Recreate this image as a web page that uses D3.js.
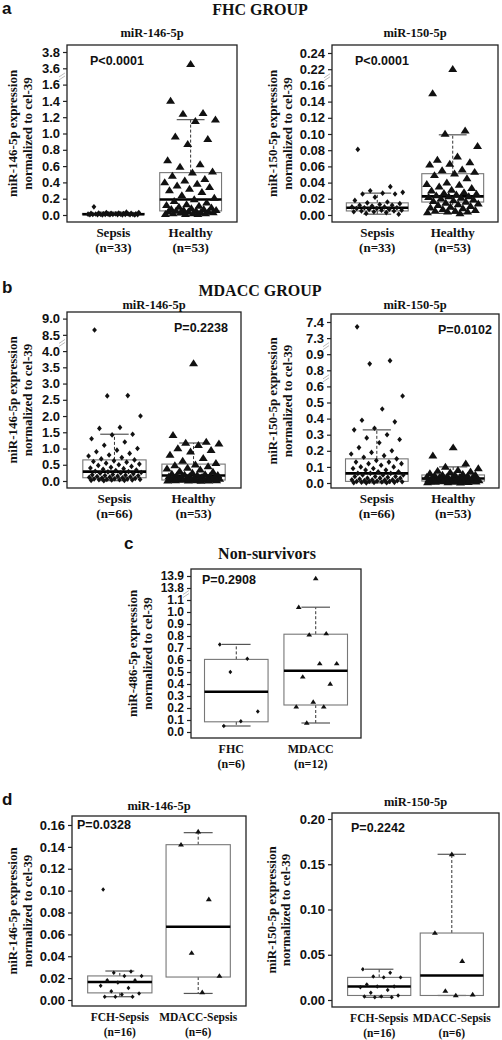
<!DOCTYPE html>
<html><head><meta charset="utf-8">
<script src="https://cdn.jsdelivr.net/npm/d3@7"></script>
<style>body{margin:0;background:#fff}svg{display:block}</style>
</head><body>
<script>
// ---------------- DATA ----------------
const catsAB = ["Sepsis", "Healthy"];
const nA = ["(n=33)", "(n=53)"];
const nB = ["(n=66)", "(n=53)"];
const catsC = ["FHC", "MDACC"];
const nC = ["(n=6)", "(n=12)"];
const catsD = ["FCH-Sepsis", "MDACC-Sepsis"];
const nD = ["(n=16)", "(n=6)"];

// panel a, miR-146-5p
const ticksA146 = [0, 0.2, 0.4, 0.6, 0.8, 1.0, 1.2, 1.4, 1.6, 3.6, 3.8];
const anchorsA146 = [0, 1.6, 3.6, 3.8];
const a146Sepsis = [0.10, 0.035, 0.03, 0.03, 0.025, 0.025, 0.022, 0.02, 0.02, 0.018, 0.016, 0.015, 0.014, 0.013, 0.012, 0.011, 0.01, 0.01, 0.009, 0.008, 0.008, 0.007, 0.006, 0.006, 0.005, 0.005, 0.004, 0.004, 0.003, 0.003, 0.002, 0.002, 0.001];
const a146Healthy = [3.65, 1.40, 1.25, 1.24, 1.17, 1.15, 0.96, 0.93, 0.87, 0.67, 0.62, 0.59, 0.53, 0.52, 0.48, 0.44, 0.42, 0.40, 0.38, 0.36, 0.34, 0.32, 0.30, 0.28, 0.24, 0.21, 0.19, 0.17, 0.15, 0.13, 0.12, 0.11, 0.10, 0.09, 0.08, 0.07, 0.07, 0.06, 0.06, 0.05, 0.05, 0.04, 0.04, 0.04, 0.03, 0.03, 0.03, 0.02, 0.02, 0.02, 0.01, 0.01, 0.01];
const a146Box = [[0.001, 0.004, 0.01, 0.02, 0.035], [0.0, 0.05, 0.19, 0.52, 1.17]];

// panel a, miR-150-5p
const ticksA150 = [0, 0.02, 0.04, 0.06, 0.08, 0.10, 0.12, 0.14, 0.16, 0.22, 0.24];
const anchorsA150 = [0, 0.16, 0.22, 0.24];
const a150Sepsis = [0.081, 0.035, 0.030, 0.028, 0.027, 0.026, 0.026, 0.022, 0.018, 0.016, 0.015, 0.014, 0.013, 0.012, 0.012, 0.011, 0.010, 0.010, 0.009, 0.009, 0.008, 0.008, 0.007, 0.007, 0.006, 0.006, 0.005, 0.005, 0.004, 0.004, 0.003, 0.002, 0.001];
const a150Healthy = [0.22, 0.15, 0.104, 0.100, 0.085, 0.072, 0.068, 0.065, 0.063, 0.062, 0.056, 0.055, 0.053, 0.051, 0.049, 0.045, 0.040, 0.038, 0.037, 0.035, 0.033, 0.031, 0.030, 0.028, 0.027, 0.026, 0.025, 0.024, 0.023, 0.023, 0.022, 0.021, 0.020, 0.019, 0.018, 0.017, 0.016, 0.015, 0.014, 0.013, 0.012, 0.011, 0.010, 0.009, 0.008, 0.007, 0.006, 0.005, 0.005, 0.004, 0.004, 0.003, 0.002];
const a150Box = [[0.001, 0.005, 0.009, 0.015, 0.027], [0.002, 0.016, 0.023, 0.051, 0.099]];

// panel b, miR-146-5p
const ticksB146 = [0, 0.5, 1.0, 1.5, 2.0, 2.5, 3.0, 3.5, 4.0, 8.5, 9.0];
const anchorsB146 = [0, 4.0, 8.5, 9.0];
const b146Sepsis = [8.65, 2.63, 2.62, 2.0, 1.65, 1.62, 1.44, 1.42, 1.3, 1.2, 1.1, 1.0, 0.95, 0.9, 0.85, 0.8, 0.77, 0.72, 0.68, 0.65, 0.62, 0.6, 0.58, 0.55, 0.52, 0.5, 0.48, 0.45, 0.42, 0.4, 0.38, 0.36, 0.34, 0.32, 0.3, 0.29, 0.28, 0.26, 0.25, 0.24, 0.22, 0.2, 0.19, 0.18, 0.17, 0.16, 0.15, 0.14, 0.13, 0.12, 0.11, 0.1, 0.09, 0.08, 0.07, 0.06, 0.06, 0.05, 0.05, 0.04, 0.04, 0.03, 0.03, 0.02, 0.02, 0.01];
const b146Healthy = [3.62, 1.41, 1.2, 1.17, 1.15, 1.1, 1.0, 0.95, 0.9, 0.8, 0.7, 0.62, 0.55, 0.5, 0.48, 0.45, 0.4, 0.38, 0.35, 0.3, 0.28, 0.25, 0.22, 0.2, 0.19, 0.18, 0.17, 0.16, 0.15, 0.14, 0.13, 0.12, 0.11, 0.1, 0.09, 0.08, 0.07, 0.06, 0.06, 0.05, 0.05, 0.04, 0.04, 0.03, 0.03, 0.03, 0.02, 0.02, 0.02, 0.01, 0.01, 0.01, 0.005];
const b146Box = [[0.01, 0.1, 0.29, 0.65, 1.44], [0.005, 0.03, 0.17, 0.52, 1.17]];

// panel b, miR-150-5p
const ticksB150 = [0, 0.1, 0.2, 0.3, 0.4, 0.5, 0.6, 0.8, 0.9, 7.3, 7.4];
const anchorsB150 = [0, 0.6, 0.8, 0.9, 7.3, 7.4];
const b150Sepsis = [7.37, 0.86, 0.84, 0.54, 0.46, 0.39, 0.38, 0.34, 0.33, 0.3, 0.28, 0.27, 0.25, 0.22, 0.2, 0.19, 0.18, 0.17, 0.16, 0.15, 0.14, 0.13, 0.13, 0.12, 0.12, 0.11, 0.1, 0.1, 0.09, 0.09, 0.08, 0.08, 0.07, 0.07, 0.06, 0.06, 0.06, 0.05, 0.05, 0.05, 0.04, 0.04, 0.04, 0.035, 0.03, 0.03, 0.03, 0.025, 0.02, 0.02, 0.02, 0.018, 0.015, 0.015, 0.012, 0.01, 0.01, 0.01, 0.008, 0.006, 0.005, 0.004, 0.003, 0.002, 0.002, 0.001];
const b150Healthy = [0.22, 0.17, 0.12, 0.1, 0.09, 0.08, 0.075, 0.07, 0.065, 0.06, 0.055, 0.05, 0.05, 0.048, 0.045, 0.042, 0.04, 0.038, 0.036, 0.034, 0.032, 0.03, 0.03, 0.028, 0.027, 0.026, 0.025, 0.024, 0.023, 0.022, 0.021, 0.02, 0.02, 0.019, 0.018, 0.017, 0.016, 0.015, 0.015, 0.014, 0.013, 0.012, 0.011, 0.01, 0.01, 0.009, 0.008, 0.007, 0.006, 0.005, 0.004, 0.003, 0.002];
const b150Box = [[0.001, 0.01, 0.06, 0.15, 0.33], [0.002, 0.012, 0.028, 0.05, 0.1]];

// panel c, miR-486-5p
const ticksC = [0, 0.1, 0.2, 0.3, 0.4, 0.5, 0.6, 0.7, 0.8, 0.9, 1.0, 1.1, 13.8, 13.9];
const anchorsC = [0, 1.1, 13.8, 13.9];
const cFHC = [0.73, 0.61, 0.5, 0.17, 0.09, 0.05];
const cMDACC = [13.88, 1.04, 0.82, 0.81, 0.57, 0.57, 0.46, 0.40, 0.25, 0.21, 0.21, 0.075];
const cBox = [[0.05, 0.085, 0.335, 0.605, 0.73], [0.075, 0.225, 0.51, 0.815, 1.04]];

// panel d, miR-146-5p
const ticksD146 = [0, 0.02, 0.04, 0.06, 0.08, 0.10, 0.12, 0.14, 0.16];
const anchorsD146 = [0, 0.16];
const d146FCH = [0.101, 0.026, 0.025, 0.022, 0.022, 0.018, 0.018, 0.016, 0.013, 0.011, 0.008, 0.006, 0.005, 0.003, 0.003, 0.003];
const d146MDACC = [0.154, 0.142, 0.092, 0.043, 0.022, 0.007];
const d146Box = [[0.003, 0.0065, 0.0165, 0.022, 0.0265], [0.006, 0.021, 0.067, 0.142, 0.153]];

// panel d, miR-150-5p
const ticksD150 = [0, 0.05, 0.10, 0.15, 0.20];
const anchorsD150 = [0, 0.20];
const d150FCH = [0.034, 0.030, 0.026, 0.025, 0.025, 0.017, 0.015, 0.015, 0.014, 0.011, 0.008, 0.005, 0.004, 0.004, 0.003, 0.003];
const d150MDACC = [0.161, 0.074, 0.043, 0.010, 0.006, 0.005];
const d150Box = [[0.003, 0.005, 0.015, 0.025, 0.034], [0.005, 0.005, 0.027, 0.074, 0.161]];

// ---------------- DRAWING ----------------
const W = 502, H = 1040;
const SERIF = "'Liberation Serif','Times New Roman',serif";
const SANS = "'Liberation Sans',Arial,sans-serif";
const svg = d3.select("body").append("svg").attr("width", W).attr("height", H);

const diamond = {draw(ctx, size) { const r = Math.sqrt(size) / 2 * 1.2; ctx.moveTo(0, -r); ctx.lineTo(r * 0.85, 0); ctx.lineTo(0, r); ctx.lineTo(-r * 0.85, 0); ctx.closePath(); }};
const triangle = {draw(ctx, size) { const s = Math.sqrt(size); const h = s * 0.9; ctx.moveTo(0, -h * 0.6); ctx.lineTo(s * 0.58, h * 0.4); ctx.lineTo(-s * 0.58, h * 0.4); ctx.closePath(); }};

function txt(x, y, s, font, size, anchor) {
  return svg.append("text").attr("x", x).attr("y", y).text(s)
    .attr("font-family", font).attr("font-size", size).attr("font-weight", "bold")
    .attr("text-anchor", anchor || "start").attr("fill", "#111");
}

function panel(o) {
  const g = svg.append("g");
  const step = (o.tickBottom - o.tickTop) / (o.ticks.length - 1);
  const y = d3.scaleLinear().domain(o.anchors)
    .range(o.anchors.map(v => o.tickBottom - o.ticks.indexOf(v) * step));
  const x = d3.scalePoint().domain(o.cats).range([o.L, o.R]).padding(o.pad);
  const bw = x.step() * o.bwf;

  const ax = g.append("g").attr("transform", `translate(${o.L},0)`)
    .call(d3.axisLeft(y).tickValues(o.ticks).tickFormat(d3.format(o.fmt)).tickSize(4).tickPadding(3));
  ax.select(".domain").remove();
  ax.selectAll("line").attr("stroke", "#222").attr("stroke-width", 1.2);
  ax.selectAll("text").attr("font-family", SANS).attr("font-weight", "bold")
    .attr("font-size", o.tfs || 13).attr("fill", "#111");

  (o.breaks || []).forEach(b => {
    const ym = (y(b[0]) + y(b[1])) / 2;
    [-1.5, 1.5].forEach(d => {
      g.append("line").attr("x1", o.L - 8).attr("x2", o.L - 2)
        .attr("y1", ym + d + 2).attr("y2", ym + d - 2)
        .attr("stroke", "#aaa").attr("stroke-width", 0.8);
    });
  });

  o.cats.forEach((c, k) => {
    const s = o.box[k], cx = x(c);
    const cw = bw * 0.45;
    g.append("line").attr("x1", cx).attr("x2", cx).attr("y1", y(s[3])).attr("y2", y(s[4]))
      .attr("stroke", "#333").attr("stroke-width", 1).attr("stroke-dasharray", "3,2");
    g.append("line").attr("x1", cx).attr("x2", cx).attr("y1", y(s[1])).attr("y2", y(s[0]))
      .attr("stroke", "#333").attr("stroke-width", 1).attr("stroke-dasharray", "3,2");
    [s[0], s[4]].forEach(v => g.append("line").attr("x1", cx - cw / 2).attr("x2", cx + cw / 2)
      .attr("y1", y(v)).attr("y2", y(v)).attr("stroke", "#555").attr("stroke-width", 1.2));
    g.append("rect").attr("x", cx - bw / 2).attr("width", bw)
      .attr("y", y(s[3])).attr("height", Math.max(0.5, y(s[1]) - y(s[3])))
      .attr("fill", "none").attr("stroke", "#777").attr("stroke-width", 1.1);
    g.append("line").attr("x1", cx - bw / 2).attr("x2", cx + bw / 2)
      .attr("y1", y(s[2])).attr("y2", y(s[2])).attr("stroke", "#000").attr("stroke-width", 2.6);
  });

  o.cats.forEach((c, k) => {
    const vals = o.vals[k], cx = x(c);
    const sym = d3.symbol().type(k === 0 ? diamond : triangle).size(k === 0 ? o.dsz : o.tsz);
    g.selectAll(null).data(vals).join("path")
      .attr("d", sym)
      .attr("transform", (v, i) => {
        const f = ((i * 0.618034 + 0.37 * k + 0.13) % 1) - 0.5;
        return `translate(${cx + f * bw * o.jit},${y(v)})`;
      })
      .attr("fill", "#111");
  });

  g.append("rect").attr("x", o.L).attr("y", o.T).attr("width", o.R - o.L).attr("height", o.B - o.T)
    .attr("fill", "none").attr("stroke", "#222").attr("stroke-width", 1.3);

  txt(o.px, o.py, o.pval, SANS, 12.5, "start");
  if (o.sub) txt((o.L + o.R) / 2, o.subY, o.sub, SERIF, 12.5, "middle");

  const cfs = o.cfs || 13;
  o.cats.forEach((c, k) => {
    txt(x(c) + (o.lx || 0), o.B + 15, c, SERIF, cfs, "middle");
    txt(x(c) + (o.lx || 0), o.B + 30, o.ns[k], SERIF, cfs, "middle");
  });

  const ym = (o.T + o.B) / 2;
  [[o.yt1X, o.ytitle[0]], [o.yt2X, o.ytitle[1]]].forEach(([xx, s]) => {
    svg.append("text").attr("transform", `translate(${xx + 4.5},${ym}) rotate(-90)`)
      .attr("text-anchor", "middle").attr("font-family", SERIF).attr("font-weight", "bold")
      .attr("font-size", 13).attr("fill", "#111").text(s);
  });
}

txt(2, 14, "a", SANS, 17, "start");
txt(260, 15, "FHC GROUP", SERIF, 16, "middle");
txt(2, 293, "b", SANS, 17, "start");
txt(260, 296, "MDACC GROUP", SERIF, 16, "middle");
txt(124, 549, "c", SANS, 17, "start");
txt(267, 559, "Non-survivors", SERIF, 16, "middle");
txt(2, 805, "d", SANS, 17, "start");

const yt146 = ["miR-146-5p expression", "normalized to cel-39"];
const yt150 = ["miR-150-5p expression", "normalized to cel-39"];
const yt486 = ["miR-486-5p expression", "normalized to cel-39"];

panel({L: 67, R: 237, T: 45, B: 222, tickTop: 52, tickBottom: 215, ticks: ticksA146, anchors: anchorsA146,
  breaks: [[1.6, 3.6]], fmt: ".1f", cats: catsAB, ns: nA, pad: 0.6, bwf: 0.8, jit: 0.85,
  vals: [a146Sepsis, a146Healthy], box: a146Box, dsz: 22, tsz: 60,
  pval: "P<0.0001", px: 90, py: 65, sub: "miR-146-5p", subY: 37, ytitle: yt146, yt1X: 12, yt2X: 27});
panel({L: 332, R: 498, T: 45, B: 222, tickTop: 53, tickBottom: 215, ticks: ticksA150, anchors: anchorsA150,
  breaks: [[0.16, 0.22]], fmt: ".2f", cats: catsAB, ns: nA, pad: 0.6, bwf: 0.82, jit: 0.85,
  vals: [a150Sepsis, a150Healthy], box: a150Box, dsz: 22, tsz: 60,
  pval: "P<0.0001", px: 355, py: 65, sub: "miR-150-5p", subY: 37, ytitle: yt150, yt1X: 272, yt2X: 287});
panel({L: 67, R: 241, T: 312, B: 488, tickTop: 318.6, tickBottom: 481, ticks: ticksB146, anchors: anchorsB146,
  breaks: [[4.0, 8.5]], fmt: ".1f", cats: catsAB, ns: nB, pad: 0.6, bwf: 0.8, jit: 0.85,
  vals: [b146Sepsis, b146Healthy], box: b146Box, dsz: 22, tsz: 60,
  pval: "P=0.2238", px: 174, py: 332, sub: "miR-146-5p", subY: 309, ytitle: yt146, yt1X: 12, yt2X: 27});
panel({L: 331, R: 499, T: 314, B: 488, tickTop: 322, tickBottom: 483, ticks: ticksB150, anchors: anchorsB150,
  breaks: [[0.9, 7.3], [0.6, 0.8]], fmt: ".1f", cats: catsAB, ns: nB, pad: 0.6, bwf: 0.82, jit: 0.85,
  vals: [b150Sepsis, b150Healthy], box: b150Box, dsz: 22, tsz: 60,
  pval: "P=0.0102", px: 438, py: 334, sub: "miR-150-5p", subY: 309, ytitle: yt150, yt1X: 272, yt2X: 287});
panel({L: 191, R: 361, T: 569, B: 738, tickTop: 576, tickBottom: 732, ticks: ticksC, anchors: anchorsC,
  breaks: [[1.1, 13.8]], fmt: ".1f", cats: catsC, ns: nC, pad: 0.57, bwf: 0.8, jit: 0.7,
  vals: [cFHC, cMDACC], box: cBox, dsz: 14, tsz: 24, tfs: 12, cfs: 12,
  pval: "P=0.2908", px: 202, py: 584, sub: null, ytitle: yt486, yt1X: 132, yt2X: 147, lx: -5});
panel({L: 72, R: 246, T: 816, B: 1006, tickTop: 825, tickBottom: 1000, ticks: ticksD146, anchors: anchorsD146,
  breaks: [], fmt: ".2f", cats: catsD, ns: nD, pad: 0.61, bwf: 0.82, jit: 0.7,
  vals: [d146FCH, d146MDACC], box: d146Box, dsz: 14, tsz: 26, cfs: 11.5,
  pval: "P=0.0328", px: 77, py: 829, sub: "miR-146-5p", subY: 810, ytitle: yt146, yt1X: 12, yt2X: 27});
panel({L: 332, R: 499, T: 813, B: 1007, tickTop: 819, tickBottom: 1000, ticks: ticksD150, anchors: anchorsD150,
  breaks: [], fmt: ".2f", cats: catsD, ns: nD, pad: 0.65, bwf: 0.87, jit: 0.7,
  vals: [d150FCH, d150MDACC], box: d150Box, dsz: 14, tsz: 26, cfs: 11.5,
  pval: "P=0.2242", px: 351, py: 832, sub: "miR-150-5p", subY: 806, ytitle: yt150, yt1X: 271, yt2X: 285});
</script>
</body></html>
